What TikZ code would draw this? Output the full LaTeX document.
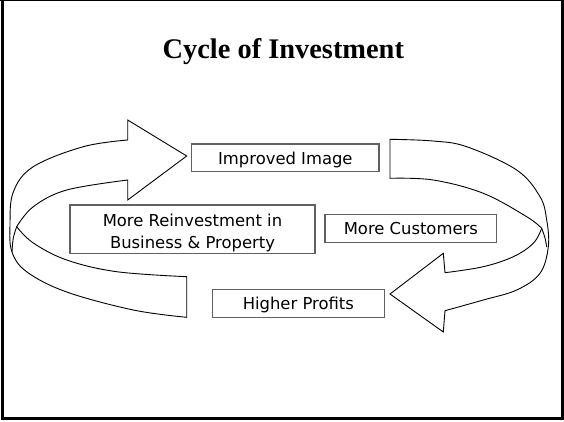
\documentclass[tikz,border=0pt]{standalone}
\usepackage{fontspec}
\setmainfont{Liberation Serif}
\newfontfamily\boxfont{DejaVu Sans}
\begin{document}
\begin{tikzpicture}[x=1pt,y=-1pt,
  box text/.style={font=\boxfont\fontsize{16.4}{21.7}\selectfont},
  label box/.style={draw=black!62,line width=1.3pt,inner sep=0pt,
    text height=13pt,text depth=0pt,box text},
  ribbon/.style={draw=black,line width=0.9pt,fill=white,line join=miter},
  twist/.style={draw=black,line width=0.9pt}]
\useasboundingbox (0,0) rectangle (564,422);
\fill[white] (0,0) rectangle (564,422);

% slide frame
\draw[line width=0.8pt] (0,0.4) -- (562,0.4);
\draw[line width=3pt] (2.6,0) -- (2.6,418.2) -- (562.5,418.2) -- (562.5,0);

% title
\node[anchor=base,font=\bfseries\fontsize{28.4}{30}\selectfont] (title) at (283.3,58.3) {Cycle of Investment};

% left ribbon arrow (from the bottom round to the top)
\path[ribbon]
  plot[smooth,tension=0.6] coordinates {(186.7,317.3) (133.3,310) (66.7,292) (27,272) (12,252) (10,225) (13.3,192) (33.3,166.7) (83.3,146.7) (127.7,140)}
  -- (127.7,120) -- (186.7,156) -- (127.7,200) -- (127.7,180)
  -- plot[smooth,tension=0.6] coordinates {(127.7,180) (66.7,190) (33.3,206.7) (16.7,226.7)}
  -- plot[smooth,tension=0.6] coordinates {(16.7,226.7) (33.3,243) (66.7,260) (116.7,271.7) (186.7,276.7)}
  -- cycle;
\path[twist] plot[smooth,tension=0.6] coordinates {(16.7,226.7) (13.3,238) (12,252)};

% right ribbon arrow (from the top round to the bottom)
\path[ribbon]
  plot[smooth,tension=0.6] coordinates {(390,139.3) (433,141) (466.7,146.7) (516.7,170) (540,196.7) (546.7,220) (548.3,246.7) (540,273.3) (516.7,290) (483.3,300) (445,310.7)}
  -- (443.3,332) -- (390,294) -- (443.3,253.3) -- (445,272.7)
  -- plot[smooth,tension=0.6] coordinates {(445,272.7) (483.3,266.7) (513.3,256.7) (533.3,243.3) (541.7,228.3)}
  -- plot[smooth,tension=0.6] coordinates {(541.7,228.3) (526.7,216.7) (483.3,193.3) (433.3,180) (390,178.3)}
  -- cycle;
\path[twist] plot[smooth,tension=0.6] coordinates {(541.7,228.3) (545,238) (546.7,247)};

% stages of the cycle
\node[label box,minimum width=187.3pt,minimum height=27.7pt] (image) at (285.35,157.85) {Improved Image};
\node[label box,minimum width=245pt,minimum height=48.3pt] (reinvest) at (192.5,229.15) {};
\node[box text,anchor=base,inner sep=0pt] (reinvest1) at (192.5,226.7) {More Reinvestment in};
\node[box text,anchor=base,inner sep=0pt] (reinvest2) at (192.5,248.3) {Business \& Property};
\node[label box,minimum width=171.7pt,minimum height=28pt] (customers) at (410.85,228.3) {More Customers};
\node[label box,minimum width=172pt,minimum height=28pt] (profits) at (298.3,303.3) {Higher Profits};
\end{tikzpicture}
\end{document}
